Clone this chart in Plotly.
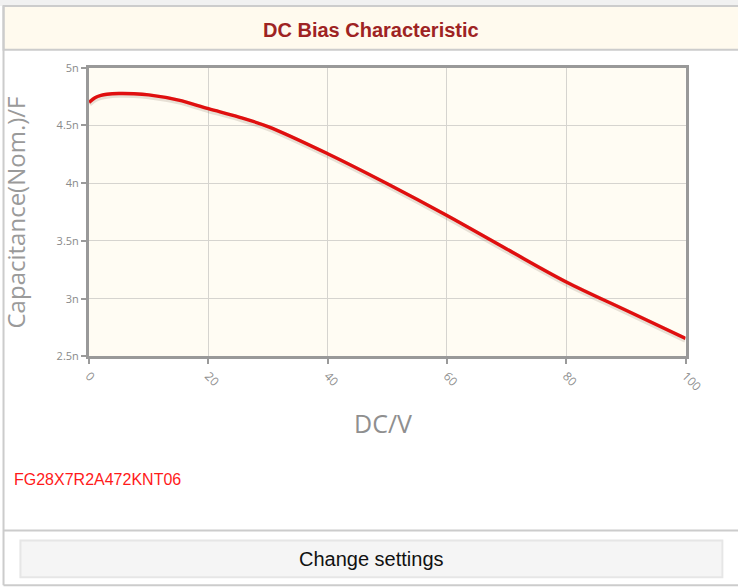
import plotly.graph_objects as go

# Data
dc_voltage = [0, 1, 2, 3, 5, 7.5, 10, 15, 20, 25, 30, 40, 50, 60, 70, 80, 90, 100]
capacitance_n = [4.70, 4.74, 4.76, 4.77, 4.777, 4.775, 4.765, 4.72, 4.645, 4.575,
                 4.49, 4.255, 3.995, 3.72, 3.43, 3.145, 2.90, 2.655]
y_tick_vals_n = [2.5, 3, 3.5, 4, 4.5, 5]
y_tick_text = ["2.5n", "3n", "3.5n", "4n", "4.5n", "5n"]
x_tick_vals = [0, 20, 40, 60, 80, 100]
x_tick_text = ["0", "20", "40", "60", "80", "100"]
title_text = "DC Bias Characteristic"
part_number = "FG28X7R2A472KNT06"
button_text = "Change settings"

W, H = 738, 588
# compensation for how the page is photographed (measured)
SX, OX, SY, OY = 0.969, 5.5, 0.979, 6.0
def px(x):
    return ((x - OX) / SX) / W
def py(y):
    return 1 - ((y - OY) / SY) / H

cap_F = [c * 1e-9 for c in capacitance_n]
y_tick_vals = [v * 1e-9 for v in y_tick_vals_n]

fig = go.Figure()
fig.add_trace(go.Scatter(x=dc_voltage, y=[c - 0.012e-9 for c in cap_F], mode="lines",
                         line=dict(color="rgba(120,100,80,0.18)", width=6, shape="spline"),
                         hoverinfo="skip", showlegend=False))
fig.add_trace(go.Scatter(x=dc_voltage, y=cap_F, mode="lines",
                         line=dict(color="#e00f0f", width=3.4, shape="spline"),
                         showlegend=False))

axis_common = dict(showline=True, linecolor="#999999", linewidth=3, mirror=True,
                   showgrid=True, gridcolor="#d6d4cf", gridwidth=1,
                   ticks="outside", ticklen=5, tickcolor="#9a9a9a", tickwidth=1.5,
                   zeroline=False, fixedrange=True)

fig.update_layout(
    width=W, height=H, autosize=False,
    margin=dict(l=0, r=0, t=0, b=0),
    paper_bgcolor="white",
    plot_bgcolor="#fffcf3",
    xaxis=dict(domain=[px(88), px(688)], range=[0, 100],
               tickvals=x_tick_vals, ticktext=x_tick_text, tickangle=45,
               tickfont=dict(family="Open Sans", size=12, color="#8f8f8f"),
               anchor="y", **axis_common),
    yaxis=dict(domain=[py(356), py(66)], range=[2.5e-9, 5e-9],
               tickvals=y_tick_vals, ticktext=y_tick_text,
               tickfont=dict(family="Open Sans", size=11, color="#8a8a8a"),
               anchor="x", **axis_common),
    shapes=[
        dict(type="rect", xref="paper", yref="paper", x0=-0.05, x1=1.05, y0=py(4), y1=1.05,
             fillcolor="#f1f1f1", line=dict(width=0), layer="below"),
        dict(type="rect", xref="paper", yref="paper", x0=px(2), x1=px(760), y0=py(48), y1=py(4),
             fillcolor="#fffaee", line=dict(color="#cccccc", width=2), layer="below"),
        dict(type="line", xref="paper", yref="paper", x0=px(2), x1=px(2), y0=py(586), y1=py(4),
             line=dict(color="#cccccc", width=2)),
        dict(type="line", xref="paper", yref="paper", x0=px(2), x1=px(760), y0=py(531), y1=py(531),
             line=dict(color="#cccccc", width=2)),
        dict(type="rect", xref="paper", yref="paper", x0=px(19), x1=px(725), y0=py(578), y1=py(541),
             fillcolor="#f5f5f5", line=dict(color="#e6e6e6", width=2), layer="below"),
        dict(type="line", xref="paper", yref="paper", x0=px(2), x1=px(760), y0=py(586), y1=py(586),
             line=dict(color="#cccccc", width=2)),
    ],
    annotations=[
        dict(text="<b>" + title_text + "</b>", xref="paper", yref="paper",
             x=px(372), y=py(28), xanchor="center", yanchor="middle", showarrow=False,
             font=dict(family="Liberation Sans", size=20, color="#9e2323")),
        dict(text="Capacitance(Nom.)/F", xref="paper", yref="paper",
             x=px(14), y=py(211), xanchor="center", yanchor="middle", showarrow=False,
             textangle=-90, font=dict(family="Open Sans", size=24, color="#9a9a9a")),
        dict(text="DC/V", xref="paper", yref="paper",
             x=px(384), y=py(423), xanchor="center", yanchor="middle", showarrow=False,
             font=dict(family="Open Sans", size=25, color="#8f8f8f")),
        dict(text=part_number, xref="paper", yref="paper",
             x=px(11), y=py(480), xanchor="left", yanchor="middle", showarrow=False,
             font=dict(family="Liberation Sans", size=16, color="#ff1a1a")),
        dict(text=button_text, xref="paper", yref="paper",
             x=px(372), y=py(560), xanchor="center", yanchor="middle", showarrow=False,
             font=dict(family="Liberation Sans", size=20, color="#111111")),
    ],
)

fig.write_html("out.html", config={"displayModeBar": False},
               post_script="document.body.style.margin='0';document.body.style.padding='0';"
                           "document.body.style.overflow='hidden';"
                           "document.documentElement.style.overflow='hidden';")
